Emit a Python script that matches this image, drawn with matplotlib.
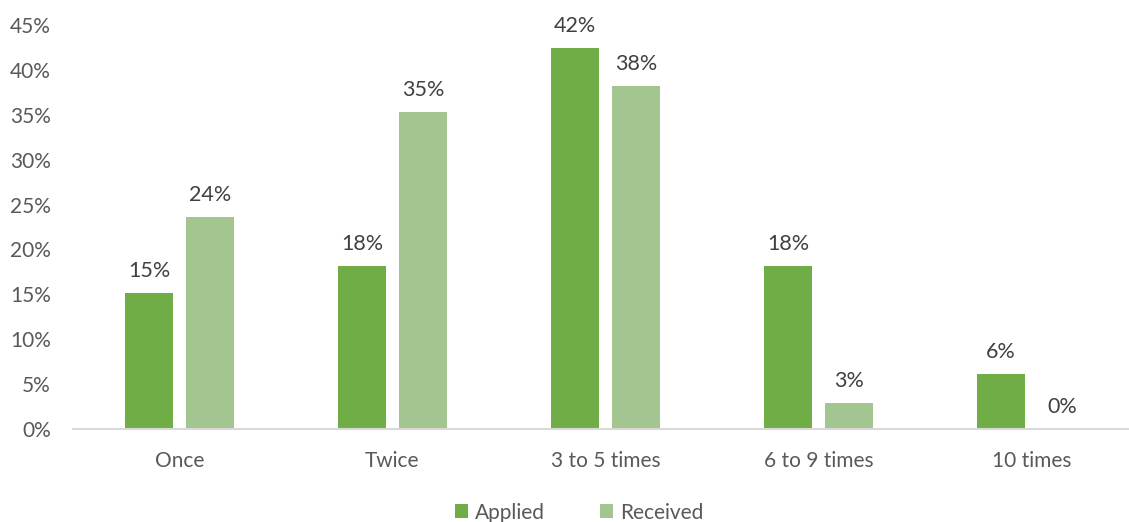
import matplotlib.pyplot as plt
import numpy as np

plt.rcParams['font.family'] = ['Lato', 'DejaVu Sans']

categories = ["Once", "Twice", "3 to 5 times", "6 to 9 times", "10 times"]
applied = [15.1, 18.2, 42.4, 18.2, 6.1]
received = [23.6, 35.3, 38.2, 2.9, 0.0]

green_dark = "#70AD47"
green_light = "#A3C58F"
text_grey = "#595959"
label_grey = "#404040"

fig = plt.figure(figsize=(11.29, 5.22), dpi=100)
ax = fig.add_axes([73 / 1129, 1 - 429 / 522, 1 - 73 / 1129, (429 - 25) / 522])

x = np.arange(len(categories))
offset = 0.143
width = 0.225

b1 = ax.bar(x - offset, applied, width, color=green_dark, label="Applied")
b2 = ax.bar(x + offset, received, width, color=green_light, label="Received")

for bars, vals in ((b1, applied), (b2, received)):
    for bar, v in zip(bars, vals):
        ax.annotate(f"{round(v):.0f}%",
                    (bar.get_x() + bar.get_width() / 2, bar.get_height()),
                    xytext=(0, 11.5), textcoords="offset points",
                    ha="center", va="baseline", fontsize=15.5, color=label_grey)

ax.set_xlim(-0.5, 4.458)
ax.set_ylim(0, 45)
ax.set_yticks(range(0, 46, 5))
ax.set_yticklabels([f"{t}%" for t in range(0, 46, 5)])
ax.set_xticks(x)
ax.set_xticklabels(categories)

ax.tick_params(axis="y", length=0, pad=16, labelsize=15, labelcolor=text_grey)
ax.tick_params(axis="x", length=0, pad=16, labelsize=15, labelcolor=text_grey)

for side in ("top", "right", "left"):
    ax.spines[side].set_visible(False)
ax.spines["bottom"].set_color("#D9D9D9")
ax.spines["bottom"].set_linewidth(1.5)

fig.legend(loc="lower center", bbox_to_anchor=(0.513, -0.037), ncol=2,
           frameon=False, fontsize=15, handlelength=0.65, handleheight=0.65,
           handletextpad=0.35, columnspacing=2.6, labelcolor=text_grey)

fig.savefig("out.png", dpi=100)
